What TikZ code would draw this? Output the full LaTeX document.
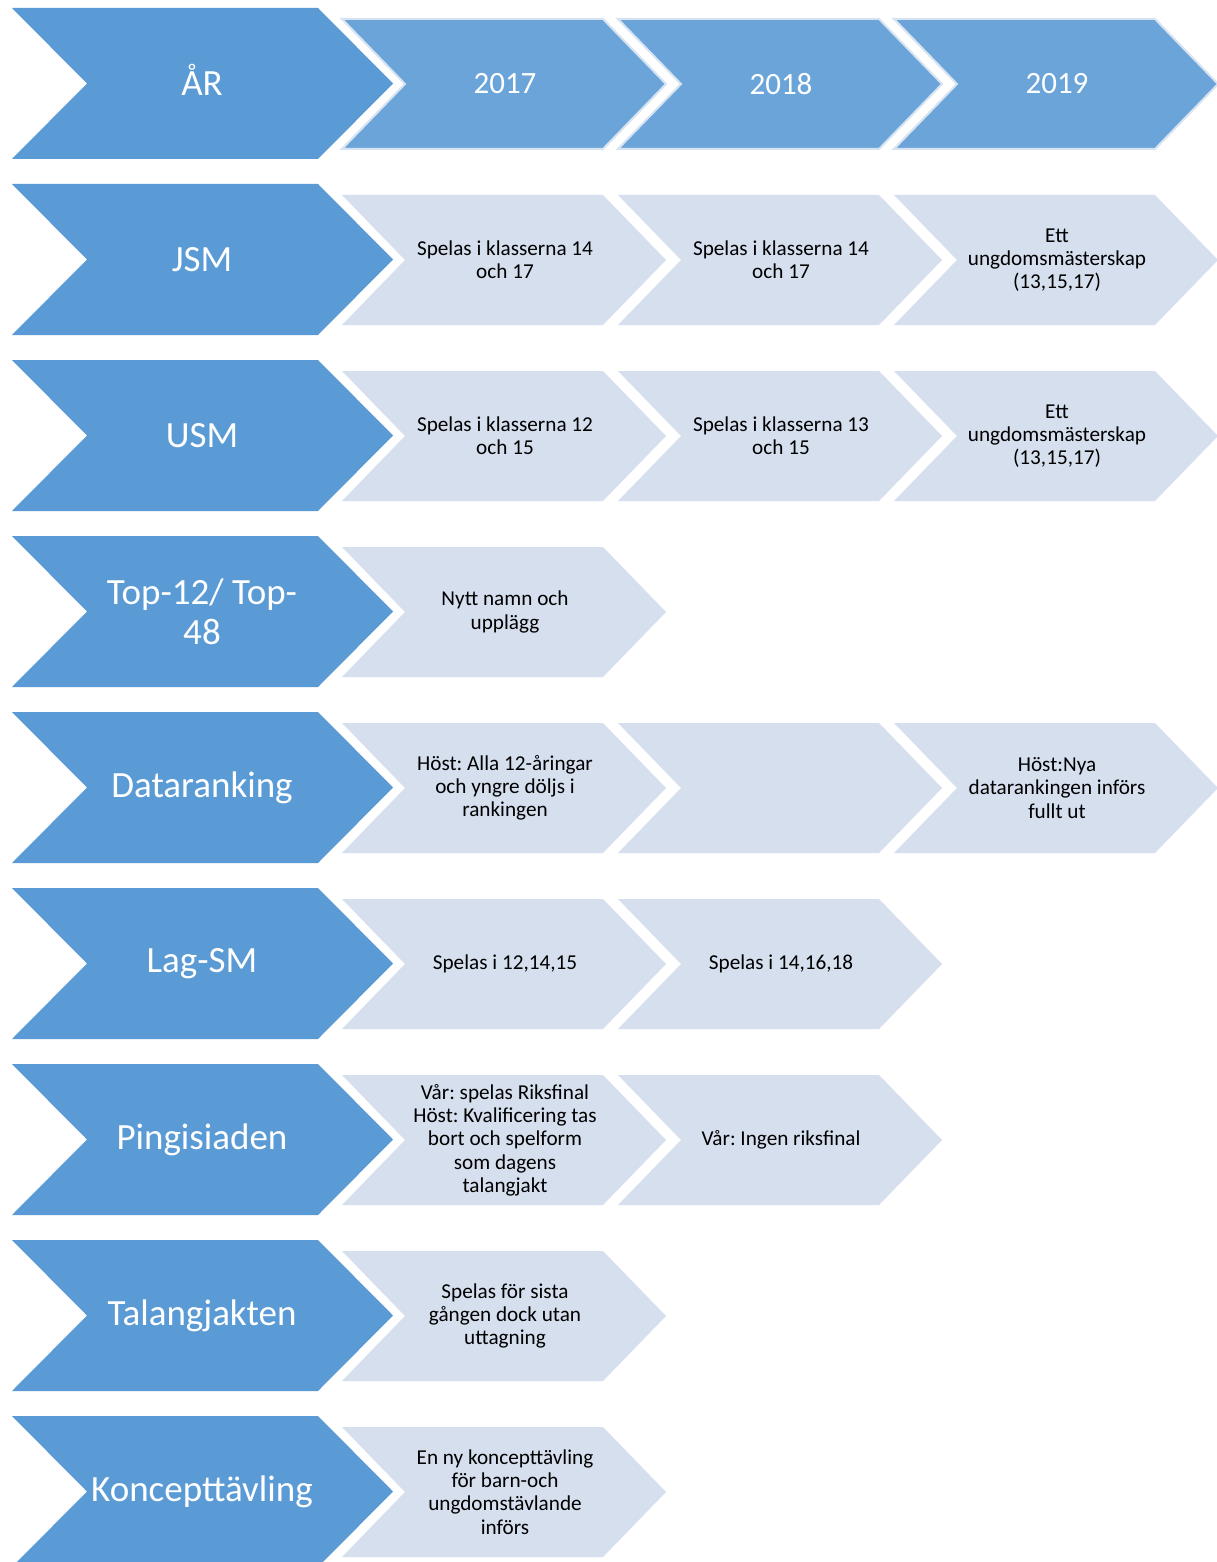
\documentclass[tikz,border=0pt]{standalone}
\usepackage{fontspec}
\setmainfont{Carlito}
\frenchspacing

\definecolor{headblue}{HTML}{5B9BD5}
\definecolor{yearblue}{HTML}{6AA4D9}
\definecolor{cellblue}{HTML}{D5DFEE}
\definecolor{rimblue}{HTML}{D8E3F1}

\tikzset{
  head/.style={fill=headblue},
  year/.style={fill=yearblue,draw=rimblue,line width=1pt},
  cell/.style={fill=cellblue},
  headtext/.style={text=white,align=center,font=\fontsize{18.5}{20}\selectfont},
  yeartext/.style={text=white,font=\fontsize{15.5}{19}\selectfont},
  celltext/.style={text=black,align=center,font=\fontsize{10.6}{11.65}\selectfont},
}

\begin{document}
\begin{tikzpicture}[x=0.5pt,y=-0.5pt]
  \useasboundingbox (0,0) rectangle (1216,1562);
  \fill[white] (0,0) rectangle (1216,1562);

  % Big chevron on the left of a row: row, name, label
  \def\headrow#1#2#3{%
    \fill[head] (12,{8+176*#1}) -- ++(306,0) -- ++(75,75.5) -- ++(-75,75.5)
      -- ++(-306,0) -- ++(75,-75.5) -- cycle;
    \node[headtext] (#2) at (202,{83.5+176*#1}) {#3};
  }
  % Small chevron: row, column, style, name, text
  \def\cellbox#1#2#3#4#5{%
    \path[#3] ({342+276*#2},{19+176*#1}) -- ++(261,0) -- ++(63,65) -- ++(-63,65)
      -- ++(-261,0) -- ++(63,-65) -- cycle;
    \node[#3text] (#4) at ({505+276*#2},{84+176*#1}) {#5};
  }

  % Years
  \headrow{0}{ar}{\vphantom{R}\smash{ÅR}}
  \foreach \yr [count=\c from 0] in {2017,2018,2019}
    \cellbox{0}{\c}{year}{y\yr}{\yr};

  % JSM
  \headrow{1}{jsm}{JSM}
  \cellbox{1}{0}{cell}{jsma}{Spelas i klasserna 14\\och 17}
  \cellbox{1}{1}{cell}{jsmb}{Spelas i klasserna 14\\och 17}
  \cellbox{1}{2}{cell}{jsmc}{Ett\\ungdomsmästerskap\\(13,15,17)}

  % USM
  \headrow{2}{usm}{USM}
  \cellbox{2}{0}{cell}{usma}{Spelas i klasserna 12\\och 15}
  \cellbox{2}{1}{cell}{usmb}{Spelas i klasserna 13\\och 15}
  \cellbox{2}{2}{cell}{usmc}{Ett\\ungdomsmästerskap\\(13,15,17)}

  % Top-12
  \headrow{3}{top}{Top-12/ Top-\\48}
  \cellbox{3}{0}{cell}{topa}{Nytt namn och\\upplägg}

  % Dataranking
  \headrow{4}{data}{Dataranking}
  \cellbox{4}{0}{cell}{dataa}{Höst: Alla 12-åringar\\och yngre döljs i\\rankingen}
  \cellbox{4}{1}{cell}{datab}{}
  \cellbox{4}{2}{cell}{datac}{Höst:Nya\\datarankingen införs\\fullt ut}

  % Lag-SM
  \headrow{5}{lag}{Lag-SM}
  \cellbox{5}{0}{cell}{laga}{Spelas i 12,14,15}
  \cellbox{5}{1}{cell}{lagb}{Spelas i 14,16,18}

  % Pingisiaden
  \headrow{6}{ping}{Pingisiaden}
  \cellbox{6}{0}{cell}{pinga}{Vår: spelas Riksfinal\\Höst: Kvalificering tas\\bort och spelform\\som dagens\\talangjakt}
  \cellbox{6}{1}{cell}{pingb}{Vår: Ingen riksfinal}

  % Talangjakten
  \headrow{7}{tal}{Talangjakten}
  \cellbox{7}{0}{cell}{tala}{Spelas för sista\\gången dock utan\\uttagning}

  % Koncepttävling
  \headrow{8}{kon}{Koncepttävling}
  \cellbox{8}{0}{cell}{kona}{En ny koncepttävling\\för barn-och\\ungdomstävlande\\införs}

\end{tikzpicture}
\end{document}
